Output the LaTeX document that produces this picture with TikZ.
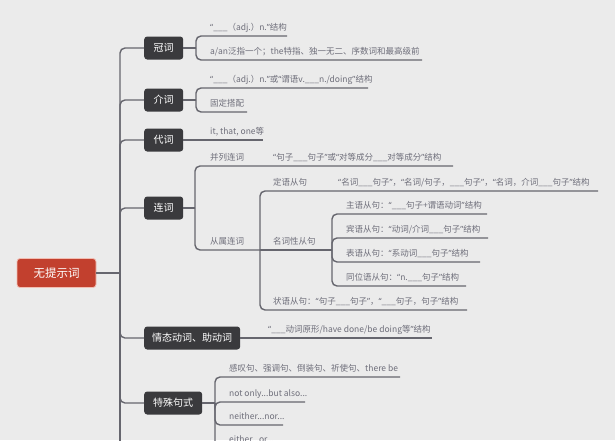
\documentclass[tikz,border=0pt]{standalone}
\usepackage{fontspec}
\setmainfont{Noto Sans CJK SC}
\newfontfamily\latf{Noto Sans}
\definecolor{bgc}{HTML}{EBEBEB}
\definecolor{linec}{HTML}{66666E}
\definecolor{nodec}{HTML}{3A3A3D}
\definecolor{rootc}{HTML}{C2402E}
\definecolor{rootedge}{HTML}{F2BDB2}
\definecolor{txtc}{HTML}{6E6E7A}
\newcommand\bk{\_\_\_}
\newcommand\oq{{\latf “}}
\newcommand\cq{{\latf ”}}
\begin{document}
\begin{tikzpicture}[x=1pt,y=-1pt,
  conn/.style={draw=linec,line width=1.4pt,rounded corners=5pt},
  topic/.style={fill=nodec,text=white,rounded corners=3pt,font=\fontsize{10}{12}\selectfont,minimum height=23pt,inner xsep=0pt,anchor=west},
  rootbox/.style={fill=rootc,draw=rootedge,line width=0.8pt,text=white,rounded corners=3pt,font=\fontsize{11.5}{13}\selectfont,minimum width=79pt,minimum height=29pt,inner sep=0pt},
  leaf/.style={text=txtc,font=\fontsize{8.5}{10}\selectfont,anchor=base west,inner sep=0pt}]
\useasboundingbox (0,0) rectangle (615,440);
\clip (0,0) rectangle (615,440);
\fill[bgc] (0,0) rectangle (615,440);

% root and main topics
\node[rootbox] (root) at (56.5,273) {无提示词};
\node[topic,minimum width=39pt] (guanci) at (144,48) {冠词};
\node[topic,minimum width=39pt] (jieci) at (144,100) {介词};
\node[topic,minimum width=39pt] (daici) at (144,140) {代词};
\node[topic,minimum width=39pt] (lianci) at (144,208) {连词};
\node[topic,minimum width=96pt] (qingtai) at (144,338) {情态动词、助动词};
\node[topic,minimum width=58pt] (teshu) at (144,403) {特殊句式};

% spine
\coordinate (sp) at (120,273);
\coordinate (spEnd) at (120,460);
\draw[conn] (root.east) -- (sp);
\foreach \n in {guanci,jieci,daici,lianci,qingtai,teshu} \draw[conn] (sp) |- (\n.west);
\draw[conn] (sp) -- (spEnd);

% 冠词
\coordinate (gJ) at (196,48);
\coordinate (gE1) at (287,36);
\coordinate (gE2) at (422,60);
\draw[conn] (guanci.east) -- (gJ);
\draw[conn] (gJ) |- (gE1);
\draw[conn] (gJ) |- (gE2);
\node[leaf] (g1) at (210,30) {\oq\bk（adj.）n.\cq 结构};
\node[leaf] (g2) at (210,54) {a/an泛指一个；the特指、独一无二、序数词和最高级前};

% 介词
\coordinate (jJ) at (196,100);
\coordinate (jE1) at (368,88);
\coordinate (jE2) at (247,112);
\draw[conn] (jieci.east) -- (jJ);
\draw[conn] (jJ) |- (jE1);
\draw[conn] (jJ) |- (jE2);
\node[leaf] (j1) at (210,82) {\oq\bk（adj.）n.\cq 或\oq 谓语v.\bk n./doing\cq 结构};
\node[leaf] (j2) at (210,106) {固定搭配};

% 代词
\coordinate (dE) at (263,140);
\draw[conn] (daici.east) -- (dE);
\node[leaf] (d1) at (210,134) {it, that, one等};

% 连词
\coordinate (lJ) at (195,208);
\coordinate (lE1) at (453,166);
\coordinate (lJ2) at (260,250);
\draw[conn] (lianci.east) -- (lJ);
\draw[conn] (lJ) |- (lE1);
\draw[conn] (lJ) |- (lJ2);
\node[leaf] (bl) at (210,160) {并列连词};
\node[leaf] (bl1) at (273,160) {\oq 句子\bk 句子\cq 或\oq 对等成分\bk 对等成分\cq 结构};
\node[leaf] (cs) at (210,244) {从属连词};

\coordinate (cE1) at (598,191);
\coordinate (cJ3) at (332,250);
\coordinate (cE3) at (467,310);
\draw[conn] (lJ2) |- (cE1);
\draw[conn] (lJ2) -- (cJ3);
\draw[conn] (lJ2) |- (cE3);
\node[leaf] (dy) at (273,185) {定语从句};
\node[leaf] (dy1) at (338,185) {\oq 名词\bk 句子\cq ，\oq 名词/句子，\bk 句子\cq ，\oq 名词，介词\bk 句子\cq 结构};
\node[leaf] (mc) at (273,244) {名词性从句};
\node[leaf] (zy) at (273,304) {状语从句：\oq 句子\bk 句子\cq ，\oq\bk 句子，句子\cq 结构};

\coordinate (mE1) at (487,214);
\coordinate (mE2) at (488,238);
\coordinate (mE3) at (480,262);
\coordinate (mE4) at (466,286);
\foreach \e in {mE1,mE2,mE3,mE4} \draw[conn] (cJ3) |- (\e);
\node[leaf] (m1) at (346,208) {主语从句：\oq\bk 句子+谓语动词\cq 结构};
\node[leaf] (m2) at (346,232) {宾语从句：\oq 动词/介词\bk 句子\cq 结构};
\node[leaf] (m3) at (346,256) {表语从句：\oq 系动词\bk 句子\cq 结构};
\node[leaf] (m4) at (346,280) {同位语从句：\oq n.\bk 句子\cq 结构};

% 情态动词
\coordinate (qE) at (432,338);
\draw[conn] (qingtai.east) -- (qE);
\node[leaf] (q1) at (268,332) {\oq\bk 动词原形/have done/be doing等\cq 结构};

% 特殊句式
\coordinate (tJ) at (215,403);
\coordinate (tE1) at (400,377);
\coordinate (tE2) at (305,402);
\coordinate (tE3) at (283,425);
\coordinate (tE4) at (275,449);
\draw[conn] (teshu.east) -- (tJ);
\foreach \e in {tE1,tE2,tE3,tE4} \draw[conn] (tJ) |- (\e);
\node[leaf] (t1) at (229,371) {感叹句、强调句、倒装句、祈使句、there be};
\node[leaf] (t2) at (229,396) {not only...but also...};
\node[leaf] (t3) at (229,419) {neither...nor...};
\node[leaf] (t4) at (229,442) {either...or...};
\end{tikzpicture}
\end{document}
